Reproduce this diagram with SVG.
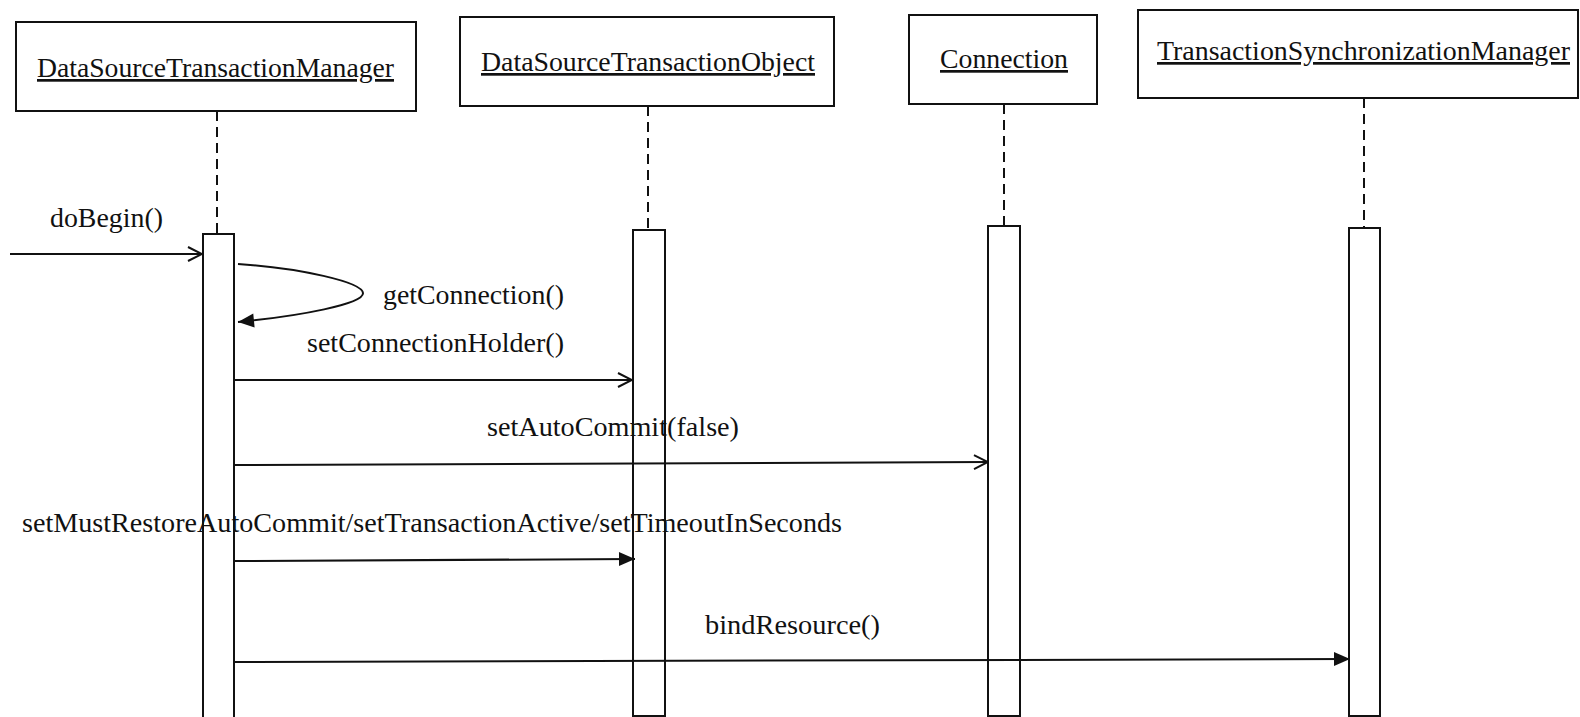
<svg xmlns="http://www.w3.org/2000/svg" width="1580" height="717" viewBox="0 0 1580 717">
<style>
text{font-family:"Liberation Serif","Times New Roman",serif;font-size:27px;fill:#111}
.name{text-decoration:underline}
.box{fill:#fff;stroke:#111;stroke-width:2}
.life{stroke:#111;stroke-width:2;stroke-dasharray:10 6;fill:none}
.msg{stroke:#111;stroke-width:2;fill:none}
</style>
<defs>
<marker id="open" markerWidth="16" markerHeight="16" refX="15" refY="8" orient="auto" markerUnits="userSpaceOnUse">
<path d="M1,1 L15,8 L1,15" fill="none" stroke="#111" stroke-width="2"/>
</marker>
<marker id="filled" markerWidth="18" markerHeight="16" refX="17" refY="8" orient="auto" markerUnits="userSpaceOnUse">
<path d="M1,1 L17,8 L1,15 Z" fill="#111"/>
</marker>
</defs>
<rect width="1580" height="717" fill="#fff"/>
<g id="n1">
<rect class="box" x="16" y="22" width="400" height="89"/>
<text class="name" x="37" y="77" textLength="357" lengthAdjust="spacingAndGlyphs">DataSourceTransactionManager</text>
<line class="life" x1="217" y1="111" x2="217" y2="234"/>
<rect class="box" x="203" y="234" width="31" height="490"/>
</g>
<g id="n2">
<rect class="box" x="460" y="17" width="374" height="89"/>
<text class="name" x="481" y="71" textLength="334" lengthAdjust="spacingAndGlyphs">DataSourceTransactionObject</text>
<line class="life" x1="648" y1="106" x2="648" y2="230"/>
<rect class="box" x="633" y="230" width="32" height="486"/>
</g>
<g id="n3">
<rect class="box" x="909" y="15" width="188" height="89"/>
<text class="name" x="940" y="68" textLength="128" lengthAdjust="spacingAndGlyphs">Connection</text>
<line class="life" x1="1004" y1="104" x2="1004" y2="226"/>
<rect class="box" x="988" y="226" width="32" height="490"/>
</g>
<g id="n4">
<rect class="box" x="1138" y="10" width="440" height="88"/>
<text class="name" x="1157" y="60" textLength="413" lengthAdjust="spacingAndGlyphs">TransactionSynchronizationManager</text>
<line class="life" x1="1364" y1="98" x2="1364" y2="228"/>
<rect class="box" x="1349" y="228" width="31" height="488"/>
</g>
<g id="connectors">
<line class="msg" x1="10" y1="254" x2="202" y2="254" marker-end="url(#open)"/>
<path class="msg" d="M238,264 C300,268 362,282 363,293 C364,304 300,316 238,322" marker-end="url(#filled)"/>
<line class="msg" x1="235" y1="380" x2="632" y2="380" marker-end="url(#open)"/>
<line class="msg" x1="235" y1="465" x2="988" y2="462" marker-end="url(#open)"/>
<line class="msg" x1="235" y1="561" x2="635" y2="559" marker-end="url(#filled)"/>
<line class="msg" x1="235" y1="662" x2="1350" y2="659" marker-end="url(#filled)"/>
</g>
<g id="labels">
<text x="50" y="227" textLength="113" lengthAdjust="spacingAndGlyphs">doBegin()</text>
<text x="383" y="304" textLength="181" lengthAdjust="spacingAndGlyphs">getConnection()</text>
<text x="307" y="352" textLength="257" lengthAdjust="spacingAndGlyphs">setConnectionHolder()</text>
<text x="487" y="436" textLength="252" lengthAdjust="spacingAndGlyphs">setAutoCommit(false)</text>
<text x="22" y="532" textLength="820" lengthAdjust="spacingAndGlyphs">setMustRestoreAutoCommit/setTransactionActive/setTimeoutInSeconds</text>
<text x="705" y="634" textLength="175" lengthAdjust="spacingAndGlyphs">bindResource()</text>
</g>
</svg>
